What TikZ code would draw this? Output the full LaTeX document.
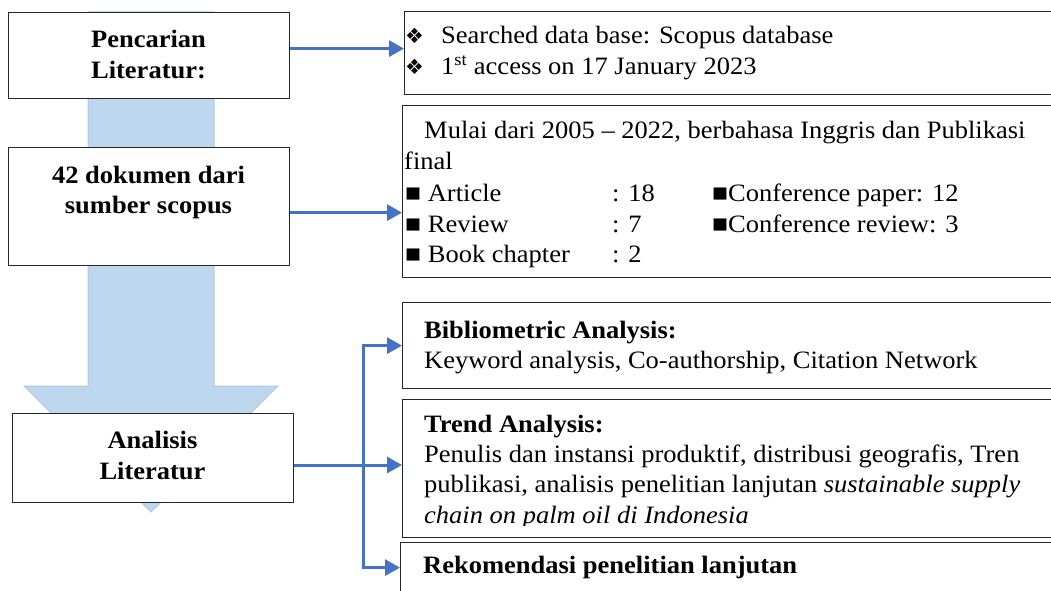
\documentclass[tikz,border=0pt]{standalone}
\usepackage{fontspec}
\setmainfont{Liberation Serif}[FakeStretch=1.06]
\newfontfamily\symfont{DejaVu Sans}
\usetikzlibrary{arrows.meta}
\definecolor{arrowblue}{HTML}{4472C4}
\definecolor{shaftfill}{HTML}{BDD7EE}
\definecolor{shaftedge}{HTML}{B4C7E7}
\begin{document}
\begin{tikzpicture}[x=1pt,y=-1pt,
  box/.style={draw=black!85,line width=1.2pt,fill=white,inner sep=0pt,anchor=north west},
  txt/.style={anchor=base west,inner sep=0pt,font=\fontsize{25}{30}\selectfont},
  btxt/.style={anchor=base west,inner sep=0pt,font=\fontsize{25}{30}\selectfont\bfseries},
  ctxt/.style={anchor=base,inner sep=0pt,font=\fontsize{25}{30}\selectfont\bfseries},
  bullet/.style={anchor=base west,inner sep=0pt,font=\fontsize{21}{24}\symfont},
  link/.style={draw=arrowblue,line width=3pt,-{Triangle[length=15pt,width=16pt]}},
  bigarrow/.style={fill=shaftfill,draw=shaftedge,line width=1pt}
  ]
\path[use as bounding box, clip] (0,0) rectangle (1051,591);
\fill[white] (0,0) rectangle (1051,591);

% big down arrow
\path[bigarrow] (88,12) -- (214,12) -- (214,386) -- (278,386) -- (151,512)
  -- (24,386) -- (88,386) -- cycle;

% left boxes
\node[box, minimum width=281pt, minimum height=86pt]  (lit) at (8,12) {};
\node[box, minimum width=281pt, minimum height=118pt] (dok) at (8,147) {};
\node[box, minimum width=281pt, minimum height=89pt]  (ana) at (12,413) {};

\node[ctxt] (lit1) at (148.5,48) {Pencarian};
\node[ctxt] (lit2) at (148.5,79) {Literatur:};
\node[ctxt] (dok1) at (148.5,183) {42 dokumen dari};
\node[ctxt] (dok2) at (148.5,213) {sumber scopus};
\node[ctxt] (ana1) at (152.5,448) {Analisis};
\node[ctxt] (ana2) at (152.5,479) {Literatur};

% right boxes
\node[box, minimum width=700pt, minimum height=83pt]  (src) at (404,11) {};
\node[box, minimum width=700pt, minimum height=172pt] (rng) at (402,105) {};
\node[box, minimum width=700pt, minimum height=86pt]  (bib) at (402,302) {};
\node[box, minimum width=700pt, minimum height=138pt] (trd) at (402,399) {};
\node[box, minimum width=700pt, minimum height=80pt]  (rek) at (400,542) {};

% source box text
\node[bullet] (d1) at (405,44) {❖};
\node[txt] (s1) at (441,44) {Searched data base: Scopus database};
\node[bullet] (d2) at (405,75) {❖};
\node[txt] (s2) at (441,75) {1\textsuperscript{st} access on 17 January 2023};

% range box text
\node[txt] (m1) at (424,139) {Mulai dari 2005 – 2022, berbahasa Inggris dan Publikasi};
\node[txt] (m2) at (404,169) {final};
\node[txt] (r1a) at (405,201) {■ Article};
\node[txt] (r1b) at (612,201) {: 18};
\node[txt] (r1c) at (712,201) {■Conference paper: 12};
\node[txt] (r2a) at (405,232) {■ Review};
\node[txt] (r2b) at (612,232) {: 7};
\node[txt] (r2c) at (712,232) {■Conference review: 3};
\node[txt] (r3a) at (405,262) {■ Book chapter};
\node[txt] (r3b) at (612,262) {: 2};

% bibliometric
\node[btxt] (b1) at (424,338) {Bibliometric Analysis:};
\node[txt]  (b2) at (424,368) {Keyword analysis, Co-authorship, Citation Network};

% trend
\node[btxt] (t1) at (424,432) {Trend Analysis:};
\node[txt]  (t2) at (424,462) {Penulis dan instansi produktif, distribusi geografis, Tren};
\node[txt]  (t3) at (424,492) {publikasi, analisis penelitian lanjutan \textit{sustainable supply}};
\begin{scope}
\clip (402,500) rectangle (1051,525);
\node[txt]  (t4) at (424,523) {\textit{chain on palm oil di Indonesia}};
\end{scope}

% recommendation
\node[btxt] (k1) at (423,573) {Rekomendasi penelitian lanjutan};

% connectors
\draw[link] ([yshift=7pt]lit.east) -- ([yshift=7pt]lit.east -| src.west);
\draw[link] ([yshift=-6pt]dok.east) -- ([yshift=-6pt]dok.east -| rng.west);
\coordinate (split) at (363,465);
\draw[link] (split -| ana.east) -- (split -| trd.west);
\draw[link] (split) |- (bib.west);
\draw[link] (split) |- ([yshift=15pt]rek.west);
\end{tikzpicture}
\end{document}
